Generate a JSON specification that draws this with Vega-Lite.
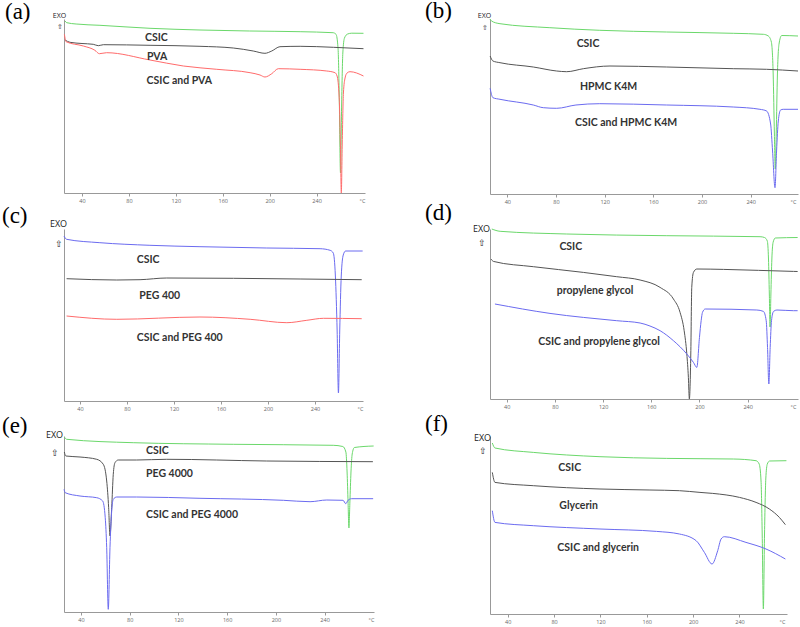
{
"$schema": "https://vega.github.io/schema/vega-lite/v6.json",
"background": "white",
"padding": {"left": 2, "top": 0, "right": 0, "bottom": 0},
"config": {
 "view": {"stroke": null},
 "axisX": {"grid": false, "tickSize": 3, "labelFontSize": 5.5, "labelColor": "#666", "domainColor": "#999", "tickColor": "#999", "labelPadding": 2, "labelOverlap": false, "labelFont": "Open Sans", "titleFont": "Open Sans", "titleFontSize": 5.5, "titleFontWeight": "normal", "titleColor": "#666", "titleAlign": "center", "titleBaseline": "top", "titleY": 5, "titleAngle": 0},
 "axisY": {"grid": false, "ticks": false, "labels": false, "domainColor": "#999", "titleAngle": 0, "titleAlign": "center", "titleBaseline": "top", "titleFontWeight": "normal", "titleColor": "#222", "titleFont": "Open Sans"},
 "title": {"font": "Liberation Serif", "fontSize": 23, "fontWeight": "normal", "anchor": "start", "frame": "group", "baseline": "alphabetic", "color": "#000"},
 "line": {"strokeWidth": 1, "interpolate": "monotone"},
 "text": {"font": "Lato", "fontWeight": "bold", "fontSize": 10.5, "align": "left", "baseline": "middle", "color": "#333"}
},
"datasets": {
 "curves": [
  {"p":"a","s":"CSIC","t":25.5,"v":172},{"p":"a","s":"CSIC","t":27,"v":170.3},{"p":"a","s":"CSIC","t":35,"v":169},{"p":"a","s":"CSIC","t":55.3,"v":167.7},{"p":"a","s":"CSIC","t":98,"v":164.7},{"p":"a","s":"CSIC","t":140.6,"v":163},{"p":"a","s":"CSIC","t":183,"v":162},{"p":"a","s":"CSIC","t":226,"v":161.3},{"p":"a","s":"CSIC","t":254,"v":160.3},{"p":"a","s":"CSIC","t":256.6,"v":158.7},{"p":"a","s":"CSIC","t":258.3,"v":145},{"p":"a","s":"CSIC","t":259.3,"v":100},{"p":"a","s":"CSIC","t":260.4,"v":20},{"p":"a","s":"CSIC","t":261.4,"v":90},{"p":"a","s":"CSIC","t":262.4,"v":140},{"p":"a","s":"CSIC","t":263.8,"v":155},{"p":"a","s":"CSIC","t":266.5,"v":159},{"p":"a","s":"CSIC","t":270,"v":159.8},{"p":"a","s":"CSIC","t":280,"v":159.7},
  {"p":"a","s":"PVA","t":25.5,"v":153},{"p":"a","s":"PVA","t":29.8,"v":150.7},{"p":"a","s":"PVA","t":40,"v":149.5},{"p":"a","s":"PVA","t":49.6,"v":148.7},{"p":"a","s":"PVA","t":53.9,"v":147.3},{"p":"a","s":"PVA","t":58.2,"v":148.3},{"p":"a","s":"PVA","t":98,"v":147.7},{"p":"a","s":"PVA","t":140.6,"v":146.7},{"p":"a","s":"PVA","t":169,"v":145},{"p":"a","s":"PVA","t":186,"v":142},{"p":"a","s":"PVA","t":196,"v":139.7},{"p":"a","s":"PVA","t":201.8,"v":142},{"p":"a","s":"PVA","t":208.8,"v":146.3},{"p":"a","s":"PVA","t":226,"v":146.7},{"p":"a","s":"PVA","t":254.3,"v":145.7},{"p":"a","s":"PVA","t":280,"v":144.3},
  {"p":"a","s":"CSIC and PVA","t":25,"v":158.7},{"p":"a","s":"CSIC and PVA","t":26.4,"v":151.3},{"p":"a","s":"CSIC and PVA","t":41.1,"v":147},{"p":"a","s":"CSIC and PVA","t":51,"v":142.7},{"p":"a","s":"CSIC and PVA","t":54.8,"v":139.3},{"p":"a","s":"CSIC and PVA","t":61,"v":140.3},{"p":"a","s":"CSIC and PVA","t":98,"v":133},{"p":"a","s":"CSIC and PVA","t":126.4,"v":127},{"p":"a","s":"CSIC and PVA","t":154.9,"v":123.7},{"p":"a","s":"CSIC and PVA","t":183.3,"v":120.3},{"p":"a","s":"CSIC and PVA","t":191.8,"v":118},{"p":"a","s":"CSIC and PVA","t":196,"v":116},{"p":"a","s":"CSIC and PVA","t":201.8,"v":119.3},{"p":"a","s":"CSIC and PVA","t":207.4,"v":124.3},{"p":"a","s":"CSIC and PVA","t":226,"v":123.7},{"p":"a","s":"CSIC and PVA","t":248.7,"v":122},{"p":"a","s":"CSIC and PVA","t":255.7,"v":120.3},{"p":"a","s":"CSIC and PVA","t":257.5,"v":117},{"p":"a","s":"CSIC and PVA","t":259.3,"v":95},{"p":"a","s":"CSIC and PVA","t":260.3,"v":50},{"p":"a","s":"CSIC and PVA","t":261.1,"v":0},{"p":"a","s":"CSIC and PVA","t":261.9,"v":50},{"p":"a","s":"CSIC and PVA","t":262.9,"v":100},{"p":"a","s":"CSIC and PVA","t":264.3,"v":115},{"p":"a","s":"CSIC and PVA","t":266,"v":120},{"p":"a","s":"CSIC and PVA","t":268.5,"v":121.3},{"p":"a","s":"CSIC and PVA","t":280,"v":117},

  {"p":"b","s":"CSIC","t":25.8,"v":175},{"p":"b","s":"CSIC","t":27,"v":173},{"p":"b","s":"CSIC","t":34,"v":170.3},{"p":"b","s":"CSIC","t":75,"v":166.3},{"p":"b","s":"CSIC","t":116,"v":163.7},{"p":"b","s":"CSIC","t":171,"v":162},{"p":"b","s":"CSIC","t":225.7,"v":160.7},{"p":"b","s":"CSIC","t":250.4,"v":159.7},{"p":"b","s":"CSIC","t":254.5,"v":158},{"p":"b","s":"CSIC","t":257,"v":152},{"p":"b","s":"CSIC","t":258.5,"v":120},{"p":"b","s":"CSIC","t":259.5,"v":60},{"p":"b","s":"CSIC","t":260.2,"v":25},{"p":"b","s":"CSIC","t":261,"v":60},{"p":"b","s":"CSIC","t":262,"v":120},{"p":"b","s":"CSIC","t":263.3,"v":150},{"p":"b","s":"CSIC","t":265.5,"v":158.5},{"p":"b","s":"CSIC","t":278.9,"v":158},
  {"p":"b","s":"HPMC K4M","t":25.9,"v":138},{"p":"b","s":"HPMC K4M","t":28.2,"v":133},{"p":"b","s":"HPMC K4M","t":34,"v":131.3},{"p":"b","s":"HPMC K4M","t":61.4,"v":127},{"p":"b","s":"HPMC K4M","t":80.6,"v":123},{"p":"b","s":"HPMC K4M","t":88.8,"v":122.3},{"p":"b","s":"HPMC K4M","t":102.5,"v":125.3},{"p":"b","s":"HPMC K4M","t":124.4,"v":128},{"p":"b","s":"HPMC K4M","t":171,"v":127},{"p":"b","s":"HPMC K4M","t":225.7,"v":125.3},{"p":"b","s":"HPMC K4M","t":253.1,"v":124.7},{"p":"b","s":"HPMC K4M","t":278.9,"v":123},
  {"p":"b","s":"CSIC and HPMC K4M","t":25.9,"v":105.7},{"p":"b","s":"CSIC and HPMC K4M","t":28.2,"v":96.3},{"p":"b","s":"CSIC and HPMC K4M","t":34,"v":94.7},{"p":"b","s":"CSIC and HPMC K4M","t":61.4,"v":89},{"p":"b","s":"CSIC and HPMC K4M","t":69.6,"v":86.3},{"p":"b","s":"CSIC and HPMC K4M","t":80.6,"v":85.7},{"p":"b","s":"CSIC and HPMC K4M","t":96.4,"v":89},{"p":"b","s":"CSIC and HPMC K4M","t":116,"v":90.3},{"p":"b","s":"CSIC and HPMC K4M","t":171,"v":89},{"p":"b","s":"CSIC and HPMC K4M","t":225.7,"v":87},{"p":"b","s":"CSIC and HPMC K4M","t":247.6,"v":84.7},{"p":"b","s":"CSIC and HPMC K4M","t":253.1,"v":83},{"p":"b","s":"CSIC and HPMC K4M","t":256.4,"v":70},{"p":"b","s":"CSIC and HPMC K4M","t":258,"v":43},{"p":"b","s":"CSIC and HPMC K4M","t":260,"v":6.3},{"p":"b","s":"CSIC and HPMC K4M","t":261.3,"v":43},{"p":"b","s":"CSIC and HPMC K4M","t":262.7,"v":73},{"p":"b","s":"CSIC and HPMC K4M","t":264.6,"v":84},{"p":"b","s":"CSIC and HPMC K4M","t":266.8,"v":84.7},{"p":"b","s":"CSIC and HPMC K4M","t":278.9,"v":84.7},

  {"p":"c","s":"CSIC","t":26.4,"v":165},{"p":"c","s":"CSIC","t":28.6,"v":161.7},{"p":"c","s":"CSIC","t":56.9,"v":158.3},{"p":"c","s":"CSIC","t":99.5,"v":155.7},{"p":"c","s":"CSIC","t":142.1,"v":154.3},{"p":"c","s":"CSIC","t":198.9,"v":153},{"p":"c","s":"CSIC","t":244.3,"v":152.3},{"p":"c","s":"CSIC","t":252.8,"v":150.7},{"p":"c","s":"CSIC","t":255.5,"v":148},{"p":"c","s":"CSIC","t":257.3,"v":125},{"p":"c","s":"CSIC","t":258.8,"v":70},{"p":"c","s":"CSIC","t":259.9,"v":8},{"p":"c","s":"CSIC","t":261,"v":70},{"p":"c","s":"CSIC","t":262.3,"v":125},{"p":"c","s":"CSIC","t":264,"v":146},{"p":"c","s":"CSIC","t":266,"v":150},{"p":"c","s":"CSIC","t":280.5,"v":150},
  {"p":"c","s":"PEG 400","t":28.6,"v":122.3},{"p":"c","s":"PEG 400","t":71.3,"v":121},{"p":"c","s":"PEG 400","t":91.1,"v":121.3},{"p":"c","s":"PEG 400","t":113.8,"v":123},{"p":"c","s":"PEG 400","t":170.6,"v":122.7},{"p":"c","s":"PEG 400","t":227.3,"v":122},{"p":"c","s":"PEG 400","t":279.7,"v":121.3},
  {"p":"c","s":"CSIC and PEG 400","t":28.6,"v":85},{"p":"c","s":"CSIC and PEG 400","t":71.3,"v":81.7},{"p":"c","s":"CSIC and PEG 400","t":142.1,"v":84},{"p":"c","s":"CSIC and PEG 400","t":184.8,"v":81.7},{"p":"c","s":"CSIC and PEG 400","t":216,"v":78.3},{"p":"c","s":"CSIC and PEG 400","t":233,"v":80.7},{"p":"c","s":"CSIC and PEG 400","t":247.2,"v":82.7},{"p":"c","s":"CSIC and PEG 400","t":279.7,"v":82.3},

  {"p":"d","s":"CSIC","t":27.6,"v":170},{"p":"d","s":"CSIC","t":34.5,"v":167.7},{"p":"d","s":"CSIC","t":89.8,"v":165},{"p":"d","s":"CSIC","t":172.9,"v":163.3},{"p":"d","s":"CSIC","t":250.3,"v":162.3},{"p":"d","s":"CSIC","t":254,"v":161.5},{"p":"d","s":"CSIC","t":256.3,"v":158},{"p":"d","s":"CSIC","t":257.3,"v":140},{"p":"d","s":"CSIC","t":258,"v":105},{"p":"d","s":"CSIC","t":258.6,"v":72},{"p":"d","s":"CSIC","t":259.3,"v":105},{"p":"d","s":"CSIC","t":260.1,"v":140},{"p":"d","s":"CSIC","t":261.2,"v":157},{"p":"d","s":"CSIC","t":263,"v":161},{"p":"d","s":"CSIC","t":281.5,"v":161.5},
  {"p":"d","s":"propylene glycol","t":27,"v":140},{"p":"d","s":"propylene glycol","t":28.9,"v":137.6},{"p":"d","s":"propylene glycol","t":62.1,"v":132.3},{"p":"d","s":"propylene glycol","t":103.6,"v":126.6},{"p":"d","s":"propylene glycol","t":131.3,"v":122.3},{"p":"d","s":"propylene glycol","t":150.7,"v":119},{"p":"d","s":"propylene glycol","t":167.3,"v":111.6},{"p":"d","s":"propylene glycol","t":178.4,"v":100},{"p":"d","s":"propylene glycol","t":183.9,"v":86.6},{"p":"d","s":"propylene glycol","t":187.3,"v":68.3},{"p":"d","s":"propylene glycol","t":189.5,"v":45},{"p":"d","s":"propylene glycol","t":190.8,"v":21.6},{"p":"d","s":"propylene glycol","t":191.6,"v":0},{"p":"d","s":"propylene glycol","t":192.8,"v":45},{"p":"d","s":"propylene glycol","t":193.6,"v":111.6},{"p":"d","s":"propylene glycol","t":195,"v":126.6},{"p":"d","s":"propylene glycol","t":197.8,"v":130},{"p":"d","s":"propylene glycol","t":219.9,"v":129.6},{"p":"d","s":"propylene glycol","t":278,"v":127.6},{"p":"d","s":"propylene glycol","t":281.5,"v":127.5},
  {"p":"d","s":"CSIC and propylene glycol","t":30.2,"v":95},{"p":"d","s":"CSIC and propylene glycol","t":75.9,"v":85.6},{"p":"d","s":"CSIC and propylene glycol","t":131.3,"v":78.3},{"p":"d","s":"CSIC and propylene glycol","t":150.7,"v":76},{"p":"d","s":"CSIC and propylene glycol","t":158.9,"v":73},{"p":"d","s":"CSIC and propylene glycol","t":167.3,"v":68.3},{"p":"d","s":"CSIC and propylene glycol","t":178.4,"v":58.3},{"p":"d","s":"CSIC and propylene glycol","t":189.5,"v":45},{"p":"d","s":"CSIC and propylene glycol","t":195,"v":36.6},{"p":"d","s":"CSIC and propylene glycol","t":197.8,"v":31.6},{"p":"d","s":"CSIC and propylene glycol","t":200,"v":61.6},{"p":"d","s":"CSIC and propylene glycol","t":201.4,"v":78.3},{"p":"d","s":"CSIC and propylene glycol","t":202.5,"v":86.6},{"p":"d","s":"CSIC and propylene glycol","t":204.8,"v":90},{"p":"d","s":"CSIC and propylene glycol","t":247.6,"v":89},{"p":"d","s":"CSIC and propylene glycol","t":253.1,"v":87.6},{"p":"d","s":"CSIC and propylene glycol","t":255.4,"v":78.3},{"p":"d","s":"CSIC and propylene glycol","t":256.5,"v":51.6},{"p":"d","s":"CSIC and propylene glycol","t":257.6,"v":15},{"p":"d","s":"CSIC and propylene glycol","t":258.7,"v":51.6},{"p":"d","s":"CSIC and propylene glycol","t":259.8,"v":78.3},{"p":"d","s":"CSIC and propylene glycol","t":261.5,"v":87.6},{"p":"d","s":"CSIC and propylene glycol","t":264.3,"v":89},{"p":"d","s":"CSIC and propylene glycol","t":278,"v":88.3},{"p":"d","s":"CSIC and propylene glycol","t":281.5,"v":88.3},

  {"p":"e","s":"CSIC","t":26.3,"v":175},{"p":"e","s":"CSIC","t":28.3,"v":172.7},{"p":"e","s":"CSIC","t":82.9,"v":169.3},{"p":"e","s":"CSIC","t":165,"v":167.7},{"p":"e","s":"CSIC","t":247.1,"v":166.7},{"p":"e","s":"CSIC","t":255,"v":165.5},{"p":"e","s":"CSIC","t":257.5,"v":160},{"p":"e","s":"CSIC","t":258.5,"v":140},{"p":"e","s":"CSIC","t":259.3,"v":110},{"p":"e","s":"CSIC","t":260,"v":84},{"p":"e","s":"CSIC","t":260.8,"v":110},{"p":"e","s":"CSIC","t":261.7,"v":140},{"p":"e","s":"CSIC","t":262.7,"v":158},{"p":"e","s":"CSIC","t":264.5,"v":164.5},{"p":"e","s":"CSIC","t":280.3,"v":166},
  {"p":"e","s":"PEG 4000","t":26.3,"v":160},{"p":"e","s":"PEG 4000","t":27.5,"v":156},{"p":"e","s":"PEG 4000","t":39.2,"v":155},{"p":"e","s":"PEG 4000","t":52.9,"v":152.7},{"p":"e","s":"PEG 4000","t":58.3,"v":147.7},{"p":"e","s":"PEG 4000","t":61.1,"v":131},{"p":"e","s":"PEG 4000","t":62.7,"v":104.3},{"p":"e","s":"PEG 4000","t":63.8,"v":76},{"p":"e","s":"PEG 4000","t":65.2,"v":104.3},{"p":"e","s":"PEG 4000","t":66.5,"v":137.7},{"p":"e","s":"PEG 4000","t":67.9,"v":149.3},{"p":"e","s":"PEG 4000","t":70.6,"v":152},{"p":"e","s":"PEG 4000","t":85.7,"v":152},{"p":"e","s":"PEG 4000","t":110.4,"v":152.7},{"p":"e","s":"PEG 4000","t":192.5,"v":151},{"p":"e","s":"PEG 4000","t":279.7,"v":150.3},
  {"p":"e","s":"CSIC and PEG 4000","t":26.1,"v":122.7},{"p":"e","s":"CSIC and PEG 4000","t":27,"v":119.3},{"p":"e","s":"CSIC and PEG 4000","t":39.2,"v":116},{"p":"e","s":"CSIC and PEG 4000","t":52.9,"v":114.3},{"p":"e","s":"CSIC and PEG 4000","t":57.8,"v":111},{"p":"e","s":"CSIC and PEG 4000","t":59.9,"v":94.3},{"p":"e","s":"CSIC and PEG 4000","t":61.1,"v":64.3},{"p":"e","s":"CSIC and PEG 4000","t":62.4,"v":2.7},{"p":"e","s":"CSIC and PEG 4000","t":63.8,"v":64.3},{"p":"e","s":"CSIC and PEG 4000","t":65.2,"v":101},{"p":"e","s":"CSIC and PEG 4000","t":66.5,"v":112.7},{"p":"e","s":"CSIC and PEG 4000","t":69.3,"v":115},{"p":"e","s":"CSIC and PEG 4000","t":85.7,"v":115},{"p":"e","s":"CSIC and PEG 4000","t":137.7,"v":113.7},{"p":"e","s":"CSIC and PEG 4000","t":206.2,"v":111.7},{"p":"e","s":"CSIC and PEG 4000","t":228.1,"v":110.3},{"p":"e","s":"CSIC and PEG 4000","t":241.8,"v":112},{"p":"e","s":"CSIC and PEG 4000","t":255.2,"v":111.7},{"p":"e","s":"CSIC and PEG 4000","t":257.4,"v":108.3},{"p":"e","s":"CSIC and PEG 4000","t":259.3,"v":111.7},{"p":"e","s":"CSIC and PEG 4000","t":262.1,"v":113.3},{"p":"e","s":"CSIC and PEG 4000","t":279.9,"v":113.3},

  {"p":"f","s":"CSIC","t":26.7,"v":171},{"p":"f","s":"CSIC","t":29,"v":166},{"p":"f","s":"CSIC","t":62.1,"v":161.6},{"p":"f","s":"CSIC","t":119.6,"v":157.3},{"p":"f","s":"CSIC","t":177.2,"v":155.6},{"p":"f","s":"CSIC","t":234.7,"v":155},{"p":"f","s":"CSIC","t":254.3,"v":153.3},{"p":"f","s":"CSIC","t":257,"v":150},{"p":"f","s":"CSIC","t":258.6,"v":133},{"p":"f","s":"CSIC","t":259.6,"v":80},{"p":"f","s":"CSIC","t":260.6,"v":5},{"p":"f","s":"CSIC","t":261.6,"v":80},{"p":"f","s":"CSIC","t":262.7,"v":135},{"p":"f","s":"CSIC","t":264,"v":150},{"p":"f","s":"CSIC","t":266,"v":153},{"p":"f","s":"CSIC","t":280.5,"v":153.3},
  {"p":"f","s":"Glycerin","t":26.7,"v":141.6},{"p":"f","s":"Glycerin","t":29,"v":131.6},{"p":"f","s":"Glycerin","t":62.1,"v":128.3},{"p":"f","s":"Glycerin","t":119.6,"v":125},{"p":"f","s":"Glycerin","t":162.7,"v":124},{"p":"f","s":"Glycerin","t":188.2,"v":123.3},{"p":"f","s":"Glycerin","t":205.9,"v":121.6},{"p":"f","s":"Glycerin","t":216.9,"v":120.6},{"p":"f","s":"Glycerin","t":240,"v":116.6},{"p":"f","s":"Glycerin","t":254.3,"v":111.6},{"p":"f","s":"Glycerin","t":265.8,"v":105},{"p":"f","s":"Glycerin","t":274.4,"v":96.6},{"p":"f","s":"Glycerin","t":279.6,"v":89.3},
  {"p":"f","s":"CSIC and glycerin","t":26.7,"v":103.3},{"p":"f","s":"CSIC and glycerin","t":29,"v":91.6},{"p":"f","s":"CSIC and glycerin","t":62.1,"v":88.3},{"p":"f","s":"CSIC and glycerin","t":119.6,"v":85},{"p":"f","s":"CSIC and glycerin","t":168.4,"v":82.6},{"p":"f","s":"CSIC and glycerin","t":188.2,"v":80},{"p":"f","s":"CSIC and glycerin","t":202.6,"v":73.3},{"p":"f","s":"CSIC and glycerin","t":209.7,"v":61.6},{"p":"f","s":"CSIC and glycerin","t":216.3,"v":50},{"p":"f","s":"CSIC and glycerin","t":221.2,"v":63.3},{"p":"f","s":"CSIC and glycerin","t":224.1,"v":75},{"p":"f","s":"CSIC and glycerin","t":226.9,"v":77.3},{"p":"f","s":"CSIC and glycerin","t":245.6,"v":71.6},{"p":"f","s":"CSIC and glycerin","t":262.9,"v":65},{"p":"f","s":"CSIC and glycerin","t":279.6,"v":55}
 ],
 "labels": [
  {"p":"a","label":"CSIC","t":93.7,"v":155},{"p":"a","label":"PVA","t":95.4,"v":136},{"p":"a","label":"CSIC and PVA","t":95.1,"v":112},
  {"p":"b","label":"CSIC","t":97,"v":149.7},{"p":"b","label":"HPMC K4M","t":99.7,"v":107},{"p":"b","label":"CSIC and HPMC K4M","t":95.6,"v":71.3},
  {"p":"c","label":"CSIC","t":88.3,"v":140.7},{"p":"c","label":"PEG 400","t":90.5,"v":105},{"p":"c","label":"CSIC and PEG 400","t":88.3,"v":62.7},
  {"p":"d","label":"CSIC","t":83.7,"v":151.6},{"p":"d","label":"propylene glycol","t":81.5,"v":107.6},{"p":"d","label":"CSIC and propylene glycol","t":66.2,"v":56.6},
  {"p":"e","label":"CSIC","t":93.4,"v":161},{"p":"e","label":"PEG 4000","t":93.4,"v":138.3},{"p":"e","label":"CSIC and PEG 4000","t":93.4,"v":96.7},
  {"p":"f","label":"CSIC","t":83.7,"v":146},{"p":"f","label":"Glycerin","t":84.5,"v":108.3},{"p":"f","label":"CSIC and glycerin","t":82.8,"v":66}
 ]
},
"concat": [
  {"width": 301, "height": 174, "title": {"text": "(a)", "dx": -59, "offset": -13},
   "layer": [
    {"data": {"name": "curves"}, "transform": [{"filter": "datum.p == 'a'"}], "mark": {"type": "line"},
     "encoding": {
      "x": {"field": "t", "type": "quantitative", "scale": {"domain": [24.65, 281.3], "nice": false, "zero": false}, "axis": {"values": [40,60,80,100,120,140,160,180,200,220,240,260], "labelOverlap": false, "labelSeparation": 0, "title": "°C", "titleX": 298}},
      "y": {"field": "v", "type": "quantitative", "scale": {"domain": [0, 174], "nice": false, "zero": false}, "axis": {"title": ["EXO", "⇧"], "titleX": -5, "titleY": -8, "titleFontSize": 7, "titleLineHeight": 11}},
      "color": {"field": "s", "type": "nominal", "scale": {"domain": ["CSIC", "PVA", "CSIC and PVA"], "range": ["#6bd86b", "#555555", "#ff6b6b"]}, "legend": null}}},
    {"data": {"name": "labels"}, "transform": [{"filter": "datum.p == 'a'"}], "mark": {"type": "text"},
     "encoding": {"x": {"field": "t", "type": "quantitative"}, "y": {"field": "v", "type": "quantitative"}, "text": {"field": "label"}}}
   ]},
  {"width": 308, "height": 175, "title": {"text": "(b)", "dx": -65, "offset": -12},
   "layer": [
    {"data": {"name": "curves"}, "transform": [{"filter": "datum.p == 'b'"}], "mark": {"type": "line"},
     "encoding": {
      "x": {"field": "t", "type": "quantitative", "scale": {"domain": [25.8, 278.9], "nice": false, "zero": false}, "axis": {"values": [40,60,80,100,120,140,160,180,200,220,240,260], "labelOverlap": false, "labelSeparation": 0, "title": "°C", "titleX": 303}},
      "y": {"field": "v", "type": "quantitative", "scale": {"domain": [0, 175], "nice": false, "zero": false}, "axis": {"title": ["EXO", "⇧"], "titleX": -6, "titleY": -8, "titleFontSize": 7, "titleLineHeight": 12}},
      "color": {"field": "s", "type": "nominal", "scale": {"domain": ["CSIC", "HPMC K4M", "CSIC and HPMC K4M"], "range": ["#6bd86b", "#555555", "#6b6bf0"]}, "legend": null}}},
    {"data": {"name": "labels"}, "transform": [{"filter": "datum.p == 'b'"}], "mark": {"type": "text"},
     "encoding": {"x": {"field": "t", "type": "quantitative"}, "y": {"field": "v", "type": "quantitative"}, "text": {"field": "label"}}}
   ]},
  {"width": 299, "height": 172, "title": {"text": "(c)", "dx": -62, "offset": -9},
   "layer": [
    {"data": {"name": "curves"}, "transform": [{"filter": "datum.p == 'c'"}], "mark": {"type": "line"},
     "encoding": {
      "x": {"field": "t", "type": "quantitative", "scale": {"domain": [26.4, 280.8], "nice": false, "zero": false}, "axis": {"values": [40,60,80,100,120,140,160,180,200,220,240,260], "labelOverlap": false, "labelSeparation": 0, "title": "°C", "titleX": 296}},
      "y": {"field": "v", "type": "quantitative", "scale": {"domain": [0, 172], "nice": false, "zero": false}, "axis": {"title": ["EXO", "⇧"], "titleX": -6, "titleY": -10, "titleFontSize": 9, "titleLineHeight": 20}},
      "color": {"field": "s", "type": "nominal", "scale": {"domain": ["CSIC", "PEG 400", "CSIC and PEG 400"], "range": ["#6b6bf0", "#555555", "#ff6b6b"]}, "legend": null}}},
    {"data": {"name": "labels"}, "transform": [{"filter": "datum.p == 'c'"}], "mark": {"type": "text"},
     "encoding": {"x": {"field": "t", "type": "quantitative"}, "y": {"field": "v", "type": "quantitative"}, "text": {"field": "label"}}}
   ]},
  {"width": 308, "height": 170, "title": {"text": "(d)", "dx": -65, "offset": -1},
   "layer": [
    {"data": {"name": "curves"}, "transform": [{"filter": "datum.p == 'd'"}], "mark": {"type": "line"},
     "encoding": {
      "x": {"field": "t", "type": "quantitative", "scale": {"domain": [26.1, 281.8], "nice": false, "zero": false}, "axis": {"values": [40,60,80,100,120,140,160,180,200,220,240,260], "labelOverlap": false, "labelSeparation": 0, "title": "°C", "titleX": 303}},
      "y": {"field": "v", "type": "quantitative", "scale": {"domain": [0, 170], "nice": false, "zero": false}, "axis": {"title": ["EXO", "⇧"], "titleX": -9, "titleY": -5, "titleFontSize": 9, "titleLineHeight": 14}},
      "color": {"field": "s", "type": "nominal", "scale": {"domain": ["CSIC", "propylene glycol", "CSIC and propylene glycol"], "range": ["#6bd86b", "#555555", "#6b6bf0"]}, "legend": null}}},
    {"data": {"name": "labels"}, "transform": [{"filter": "datum.p == 'd'"}], "mark": {"type": "text"},
     "encoding": {"x": {"field": "t", "type": "quantitative"}, "y": {"field": "v", "type": "quantitative"}, "text": {"field": "label"}}}
   ]},
  {"width": 310, "height": 176, "title": {"text": "(e)", "dx": -62, "offset": -8},
   "layer": [
    {"data": {"name": "curves"}, "transform": [{"filter": "datum.p == 'e'"}], "mark": {"type": "line"},
     "encoding": {
      "x": {"field": "t", "type": "quantitative", "scale": {"domain": [26.04, 280.6], "nice": false, "zero": false}, "axis": {"values": [40,60,80,100,120,140,160,180,200,220,240,260], "labelOverlap": false, "labelSeparation": 0, "title": "°C", "titleX": 307}},
      "y": {"field": "v", "type": "quantitative", "scale": {"domain": [0, 176], "nice": false, "zero": false}, "axis": {"title": ["EXO", "⇧"], "titleX": -10, "titleY": -6, "titleFontSize": 9, "titleLineHeight": 18}},
      "color": {"field": "s", "type": "nominal", "scale": {"domain": ["CSIC", "PEG 4000", "CSIC and PEG 4000"], "range": ["#6bd86b", "#555555", "#6b6bf0"]}, "legend": null}}},
    {"data": {"name": "labels"}, "transform": [{"filter": "datum.p == 'e'"}], "mark": {"type": "text"},
     "encoding": {"x": {"field": "t", "type": "quantitative"}, "y": {"field": "v", "type": "quantitative"}, "text": {"field": "label"}}}
   ]},
  {"width": 297, "height": 178, "title": {"text": "(f)", "dx": -65, "offset": -3},
   "layer": [
    {"data": {"name": "curves"}, "transform": [{"filter": "datum.p == 'f'"}], "mark": {"type": "line"},
     "encoding": {
      "x": {"field": "t", "type": "quantitative", "scale": {"domain": [24.7, 281], "nice": false, "zero": false}, "axis": {"values": [40,60,80,100,120,140,160,180,200,220,240,260], "labelOverlap": false, "labelSeparation": 0, "title": "°C", "titleX": 292}},
      "y": {"field": "v", "type": "quantitative", "scale": {"domain": [0, 178], "nice": false, "zero": false}, "axis": {"title": ["EXO", "⇧"], "titleX": -8, "titleY": -3, "titleFontSize": 9, "titleLineHeight": 13}},
      "color": {"field": "s", "type": "nominal", "scale": {"domain": ["CSIC", "Glycerin", "CSIC and glycerin"], "range": ["#6bd86b", "#555555", "#6b6bf0"]}, "legend": null}}},
    {"data": {"name": "labels"}, "transform": [{"filter": "datum.p == 'f'"}], "mark": {"type": "text"},
     "encoding": {"x": {"field": "t", "type": "quantitative"}, "y": {"field": "v", "type": "quantitative"}, "text": {"field": "label"}}}
   ]}
],
"columns": 2,
"spacing": {"row": 35, "column": 116},
"bounds": "flush",
"resolve": {"scale": {"color": "independent"}}
}
